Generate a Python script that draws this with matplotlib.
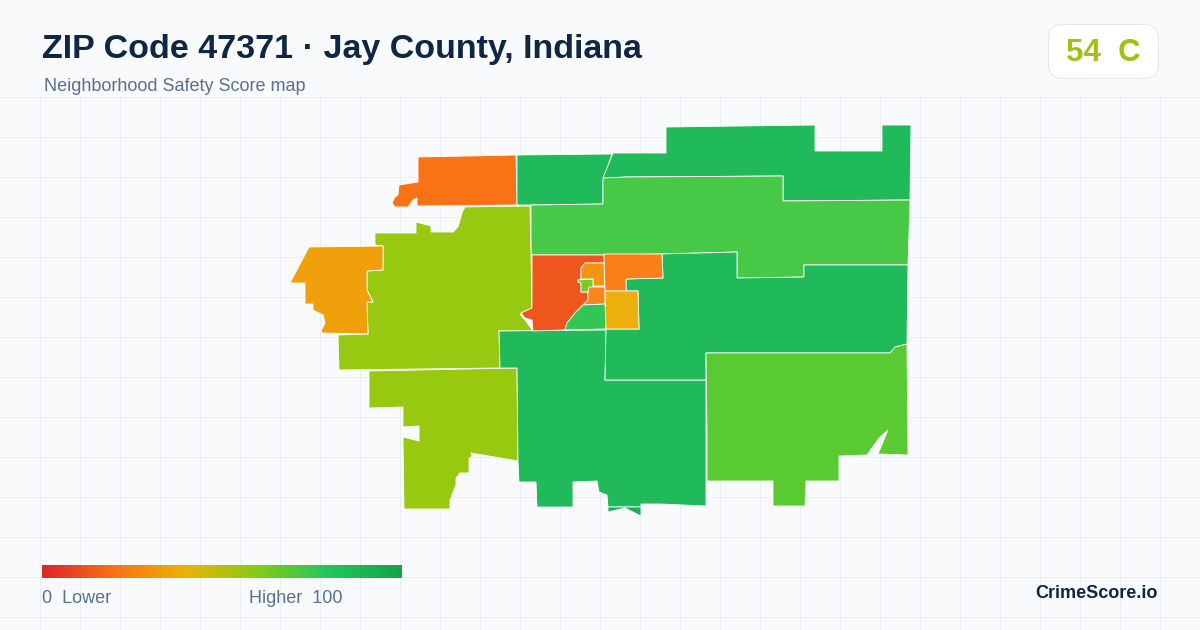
# -*- coding: utf-8 -*-
"""
ZIP 47371 safety score map card. Block group outlines read off the picture in pixels.
"""

import numpy as np
import matplotlib.pyplot as plt
from matplotlib.colors import LinearSegmentedColormap
from matplotlib.patches import FancyBboxPatch, Polygon

plt.rcParams['font.family'] = ['Liberation Sans', 'DejaVu Sans']

title = 'ZIP Code 47371 · Jay County, Indiana'
subtitle = 'Neighborhood Safety Score map'
score_text = '54  C'
brand = 'CrimeScore.io'

# outlines, pixel coords of the card
north_orange = [(418, 157), (516, 155), (517, 205), (417, 206), (417, 198), (413, 200), (408, 207),
                (395, 207), (392, 203), (395, 197), (398, 195), (399, 185), (418, 182)]
north_green = [(517, 155), (612, 154), (603, 180), (603, 204), (531, 205), (517, 205)]
northeast_green = [(603, 178), (613, 153), (666, 153), (666, 127), (815, 125), (815, 151), (882, 151),
                   (882, 125), (911, 125), (910, 200), (783, 201), (783, 176), (627, 177)]
band_green = [(531, 205), (603, 204), (603, 178), (627, 177), (783, 176), (783, 201), (910, 200), (908, 265),
              (804, 265), (804, 277), (737, 278), (737, 252), (662, 254), (605, 255), (531, 255)]
west_lime = [(465, 207), (530, 206), (532, 302), (532, 308), (520, 314), (525, 320), (533, 331), (499, 331),
             (500, 368), (339, 370), (338, 335), (368, 334), (367, 302), (373, 302), (367, 290), (367, 271),
             (383, 270), (383, 246), (375, 245), (375, 233), (416, 233), (416, 222), (431, 226), (431, 232),
             (453, 232), (458, 227), (462, 213)]
west_amber = [(309, 247), (383, 246), (383, 270), (367, 271), (367, 290), (373, 302), (367, 302), (368, 334),
              (322, 333), (321, 331), (325, 323), (323, 315), (313, 310), (313, 304), (305, 304), (305, 283),
              (290, 283)]
southwest_lime = [(369, 371), (517, 368), (518, 461), (471, 453), (472, 457), (469, 458), (469, 473), (460, 473),
                  (456, 478), (456, 485), (450, 500), (450, 509), (404, 509), (403, 437), (419, 441), (419, 426),
                  (403, 427), (403, 407), (369, 408)]
south_green = [(499, 331), (606, 330), (605, 380), (706, 380), (706, 506), (660, 504), (641, 504), (641, 507),
               (608, 507), (607, 495), (599, 492), (597, 481), (573, 482), (573, 507), (537, 507), (536, 482),
               (519, 482), (518, 461), (517, 368), (500, 368)]
south_sliver = [(608, 507), (641, 507), (641, 516), (625, 508), (608, 512)]
east_green = [(606, 329), (639, 329), (638, 291), (626, 291), (626, 279), (663, 278), (662, 254), (737, 252),
              (737, 278), (804, 277), (804, 265), (908, 265), (907, 344), (895, 347), (890, 353), (706, 353),
              (706, 380), (605, 380)]
southeast_green = [(706, 353), (890, 353), (895, 347), (907, 344), (908, 455), (878, 454), (888, 430), (880, 437),
                   (867, 455), (839, 456), (839, 481), (806, 481), (805, 506), (773, 506), (773, 481), (707, 481),
                   (707, 430)]
town_red = [(532, 255), (604, 255), (604, 263), (585, 263), (581, 268), (581, 279), (578, 280), (578, 282),
            (581, 283), (581, 292), (588, 292), (588, 300), (583, 305), (575, 313), (567, 323), (565, 330),
            (533, 331), (532, 320), (525, 318), (521, 313), (532, 308)]
town_orange_a = [(585, 263), (604, 263), (605, 286), (593, 286), (593, 279), (581, 279), (581, 268)]
town_lime = [(578, 280), (593, 279), (593, 286), (588, 292), (581, 292), (581, 283), (578, 282)]
town_orange_b = [(589, 287), (605, 287), (605, 304), (583, 305), (588, 300), (588, 292)]
town_green = [(583, 305), (605, 304), (606, 329), (565, 330), (567, 323), (575, 313)]
town_orange_c = [(604, 254), (662, 254), (663, 278), (626, 279), (626, 291), (605, 291)]
town_amber = [(605, 291), (638, 291), (639, 329), (606, 329)]

areas = [north_orange, north_green, northeast_green, band_green, west_lime, west_amber, southwest_lime,
         south_green, south_sliver, east_green, southeast_green, town_red, town_orange_a, town_lime,
         town_orange_b, town_green, town_orange_c, town_amber]
area_colors = ['#f97316', '#20ba5a', '#20ba5a', '#47c847', '#98c911', '#f0a00a', '#98c911',
               '#20ba5a', '#18b058', '#20ba5a', '#5aca32', '#ef561d', '#f59312', '#7acb1f',
               '#f8861a', '#34c653', '#fa7f16', '#edaf0c']

scale_colors = ['#dc2626', '#f97316', '#eab308', '#84cc16', '#22c55e', '#16a34a']

fig = plt.figure(figsize=(12, 6.3), dpi=100, facecolor='#f8fafc')
ax = fig.add_axes([0, 0, 1, 1])
ax.set_xlim(0, 1200)
ax.set_ylim(630, 0)
ax.axis('off')

# background grid, only below the header
for x in np.arange(40.2, 1200, 40):
    ax.plot([x, x], [96, 630], color='#e8eef3', lw=0.72, zorder=1)
for y in np.arange(96.8, 630, 40):
    ax.plot([0, 1200], [y, y], color='#e8eef3', lw=0.72, zorder=1)

for pts, c in zip(areas, area_colors):
    ax.add_patch(Polygon(pts, closed=True, facecolor=c, edgecolor='white', lw=0.6, joinstyle='round', zorder=2))

# legend bar
cmap = LinearSegmentedColormap.from_list('score', scale_colors)
ax.imshow(np.linspace(0, 1, 360).reshape(1, -1), cmap=cmap, extent=(42, 402, 578, 565), aspect='auto', zorder=3)
ax.set_xlim(0, 1200)
ax.set_ylim(630, 0)
ax.text(42, 598.5, '0  Lower', fontsize=12.96, color='#5a7090', va='center', ha='left', zorder=4)
ax.text(249, 598.5, 'Higher  100', fontsize=12.96, color='#5a7090', va='center', ha='left', zorder=4)

# header
ax.text(42, 49.5, title, fontsize=24.48, fontweight='bold', color='#0f2744', va='center', ha='left', zorder=4)
ax.text(44, 86.5, subtitle, fontsize=12.96, color='#5a7090', va='center', ha='left', zorder=4)

# score badge
ax.add_patch(FancyBboxPatch((1048.5, 24.5), 110, 54, boxstyle='round,pad=0,rounding_size=14', facecolor='white',
                            edgecolor='#e2e8f0', lw=0.72, zorder=3))
ax.text(1103, 53, score_text, fontsize=22.5, fontweight='bold', color='#a3c014', va='center', ha='center', zorder=4)

ax.text(1158, 594, brand, fontsize=13, fontweight='bold', color='#0f2744', va='center', ha='right', zorder=4)

fig.savefig('out.png', dpi=100, facecolor=fig.get_facecolor())
